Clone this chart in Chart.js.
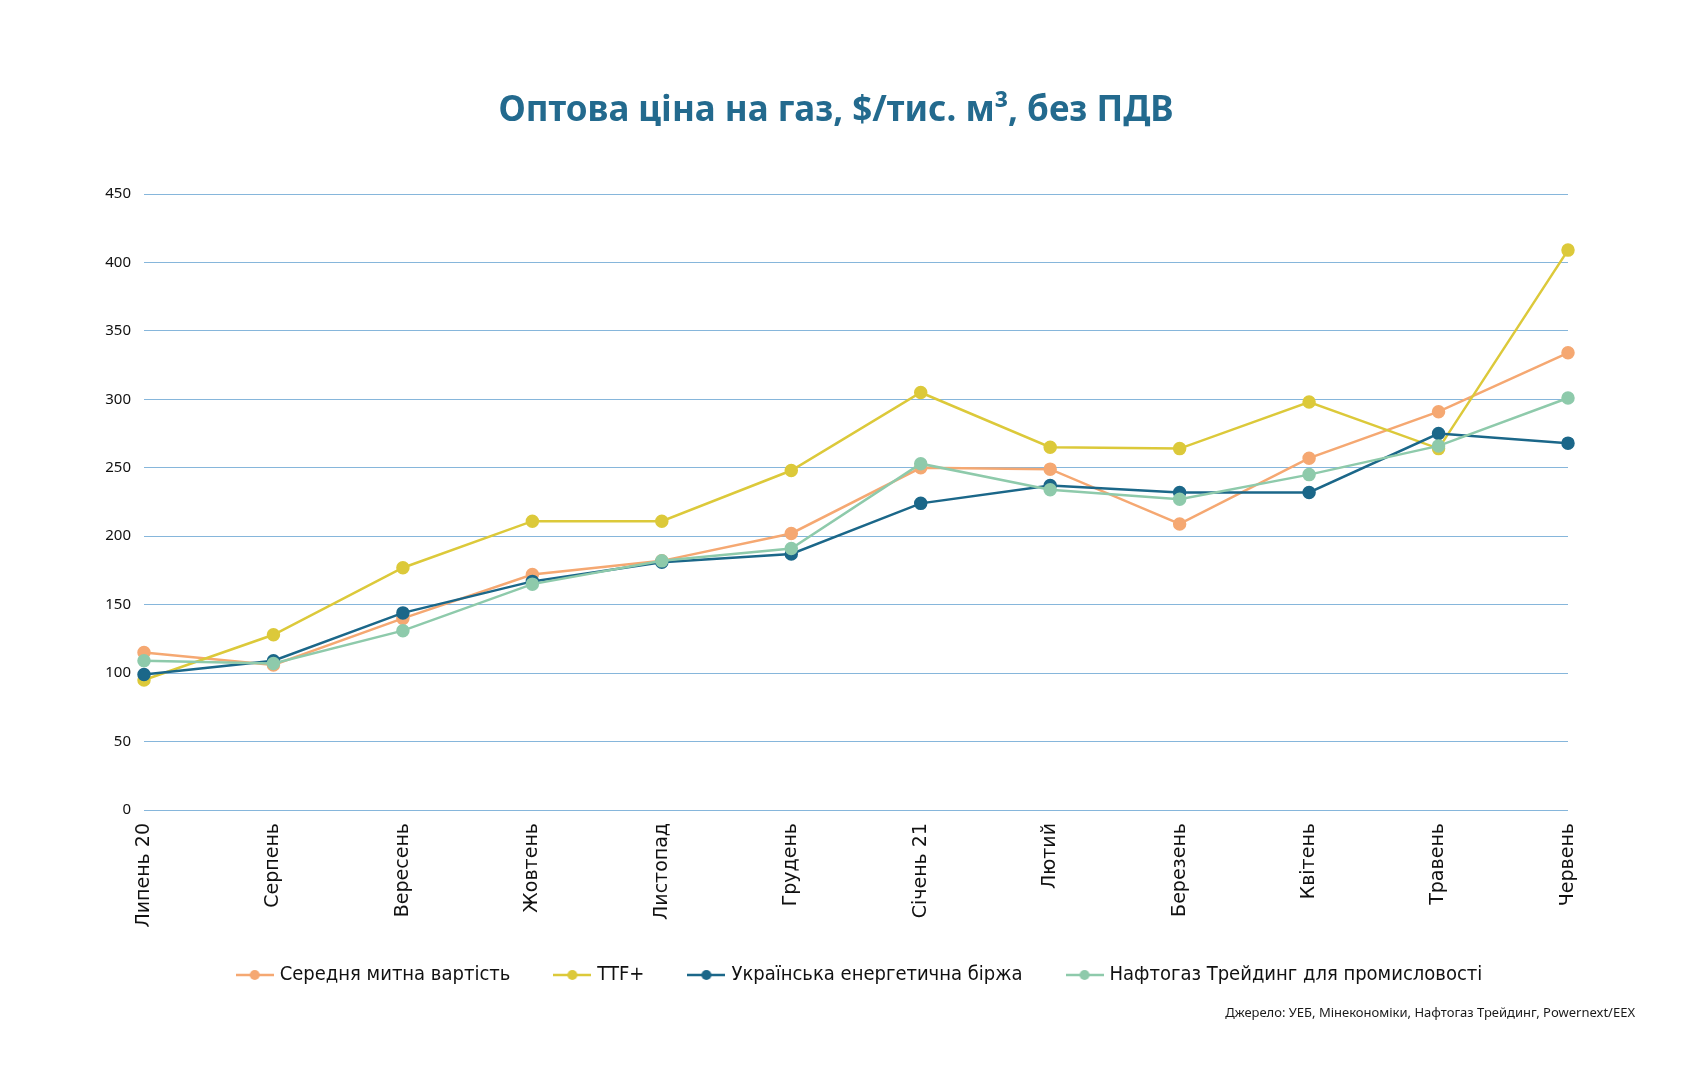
<!DOCTYPE html>
<html lang="uk">
<head>
<meta charset="utf-8">
<title>Оптова ціна на газ</title>
<script src="https://cdn.jsdelivr.net/npm/chart.js@4/dist/chart.umd.min.js"></script>
<style>
  html, body { margin: 0; padding: 0; background: #ffffff; }
  #wrap { width: 1684px; height: 1080px; }
</style>
</head>
<body>
<div id="wrap"><canvas id="gasChart" width="1684" height="1080"></canvas></div>
<script>
// months, Jul 2020 .. Jun 2021
const months = ['Липень 20', 'Серпень', 'Вересень', 'Жовтень', 'Листопад', 'Грудень',
  'Січень 21', 'Лютий', 'Березень', 'Квітень', 'Травень', 'Червень'];

const customsValue = [115, 106, 140, 172, 182, 202, 250, 249, 209, 257, 291, 334];
const ttfPlus = [95, 128, 177, 211, 211, 248, 305, 265, 264, 298, 264, 409];
const uebExchange = [99, 109, 144, 167, 181, 187, 224, 237, 232, 232, 275, 268];
const naftogazIndustry = [109, 107, 131, 165, 182, 191, 253, 234, 227, 245, 266, 301];

const seriesNames = ['Середня митна вартість', 'TTF+', 'Українська енергетична біржа',
  'Нафтогаз Трейдинг для промисловості'];
const seriesColors = ['#f5a872', '#dcc93a', '#1b6789', '#8ecaab'];

const yTicks = { min: 0, max: 450, step: 50 };
const sourceText = 'Джерело: УЕБ, Мінекономіки, Нафтогаз Трейдинг, Powernext/EEX';

// small line-with-dot markers for the legend
const makeMarker = (color) => {
  const c = document.createElement('canvas');
  c.width = 38;
  c.height = 12;
  const g = c.getContext('2d');
  g.strokeStyle = color;
  g.lineWidth = 2.5;
  g.beginPath();
  g.moveTo(0, 6);
  g.lineTo(38, 6);
  g.stroke();
  g.fillStyle = color;
  g.beginPath();
  g.arc(19, 6, 5, 0, Math.PI * 2);
  g.fill();
  return c;
};
const markers = seriesColors.map(makeMarker);

const sourcePlugin = {
  id: 'sourceNote',
  afterLayout(chart) {
    // legend sits a little right of centre and tucked up under the month labels
    if (chart.legend) {
      chart.legend.left += 25;
      chart.legend.right += 25;
      chart.legend.top -= 30;
      chart.legend.bottom -= 30;
    }
  },
  afterDraw(chart) {
    const ctx = chart.ctx;
    ctx.save();
    ctx.font = '13px "Noto Sans", sans-serif';
    ctx.fillStyle = '#1a1a1a';
    ctx.textAlign = 'right';
    ctx.textBaseline = 'middle';
    ctx.fillText(sourceText, 1635, 1013);
    ctx.restore();
  }
};

const allData = [customsValue, ttfPlus, uebExchange, naftogazIndustry];
const datasets = allData.map((values, i) => ({
  label: seriesNames[i],
  data: values,
  borderColor: seriesColors[i],
  backgroundColor: seriesColors[i],
  pointBackgroundColor: seriesColors[i],
  pointBorderColor: seriesColors[i],
  borderWidth: 2.5,
  pointRadius: 5.5,
  pointHoverRadius: 6,
  tension: 0,
  fill: false,
  order: allData.length - i // later series drawn on top
}));

new Chart(document.getElementById('gasChart'), {
  type: 'line',
  data: { labels: months, datasets },
  plugins: [sourcePlugin],
  options: {
    responsive: false,
    animation: false,
    layout: { padding: { left: 104, right: 116, top: 0, bottom: 55 } },
    scales: {
      x: {
        offset: false,
        grid: { display: false },
        border: { display: false },
        ticks: {
          minRotation: 90,
          maxRotation: 90,
          autoSkip: false,
          padding: 5,
          color: '#111111',
          font: { family: '"DejaVu Sans", sans-serif', size: 19 }
        },
        afterFit(scale) { scale.height = 138; }
      },
      y: {
        min: yTicks.min,
        max: yTicks.max,
        border: { display: false },
        grid: { color: '#86b6db', lineWidth: 1, drawTicks: false },
        ticks: {
          stepSize: yTicks.step,
          padding: 13,
          color: '#111111',
          font: { family: '"Noto Sans", sans-serif', size: 15 }
        },
        afterFit(scale) { scale.width = 40; }
      }
    },
    plugins: {
      title: {
        display: true,
        text: 'Оптова ціна на газ, $/тис. м³, без ПДВ',
        color: '#236a8e',
        font: { family: '"Noto Sans", sans-serif', size: 35, weight: 'bold' },
        padding: { top: 90, bottom: 62 }
      },
      legend: {
        position: 'bottom',
        labels: {
          usePointStyle: true,
          pointStyleWidth: 30,
          padding: 47,
          color: '#111111',
          font: { family: '"Liberation Sans Narrow", "DejaVu Sans Condensed", sans-serif', size: 20 },
          sort: (a, b) => a.datasetIndex - b.datasetIndex,
          generateLabels(chart) {
            const items = Chart.defaults.plugins.legend.labels.generateLabels(chart);
            items.forEach(item => { item.pointStyle = markers[item.datasetIndex]; });
            return items;
          }
        }
      },
      tooltip: { enabled: false }
    }
  }
});
</script>
</body>
</html>
